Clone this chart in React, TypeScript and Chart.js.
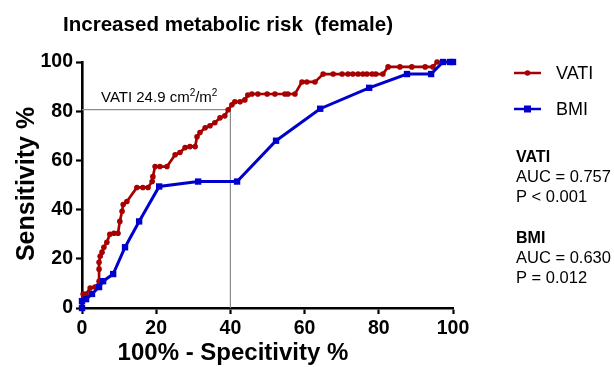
import React, { useEffect, useRef } from "react";
import { Chart, registerables } from "chart.js";

Chart.register(...registerables);

const chartTitle = "Increased metabolic risk  (female)";
const xAxisTitle = "100% - Specitivity %";
const yAxisTitle = "Sensitivity %";
const tickValues = [0, 20, 40, 60, 80, 100];

const vatiX = [0, 0, 0.3, 1.1, 2.2, 3.5, 4.3, 4.6, 4.6, 4.6, 4.9, 5.4, 5.9, 6.7, 7.5, 8.6, 9.7, 10.2, 10.8, 11.1, 12.1, 14.8, 16.4, 17.8, 18.9, 19.1, 19.7, 21.0, 22.9, 25.1, 26.4, 27.8, 29.1, 30.5, 31.0, 31.8, 33.2, 34.5, 35.8, 37.2, 38.5, 39.4, 40.4, 41.2, 42.6, 43.9, 44.7, 45.8, 47.4, 49.9, 52.0, 54.7, 55.5, 57.4, 59.3, 60.6, 62.8, 65.0, 67.7, 70.1, 71.7, 73.0, 74.4, 75.7, 76.8, 78.2, 79.2, 81.1, 82.5, 85.7, 88.9, 92.5, 94.6, 95.7, 100];
const vatiY = [0, 2.9, 5.7, 5.7, 8.1, 8.5, 8.9, 10.9, 15.8, 18.6, 21.0, 22.7, 24.7, 26.7, 30.0, 30.4, 30.4, 35.2, 39.3, 42.1, 43.3, 49.0, 49.0, 49.0, 51.4, 53.4, 57.5, 57.5, 57.5, 62.3, 63.2, 65.2, 65.6, 65.6, 69.6, 71.3, 73.3, 74.1, 75.3, 77.3, 78.1, 80.6, 82.6, 83.8, 83.8, 84.6, 86.6, 87.0, 87.0, 87.0, 87.0, 87.0, 87.0, 87.0, 91.9, 91.9, 91.9, 95.1, 95.1, 95.1, 95.1, 95.1, 95.1, 95.1, 95.1, 95.1, 95.1, 95.1, 98.0, 98.0, 98.0, 98.0, 98.0, 100, 100];

const bmiX = [0, 0, 1.1, 2.7, 4.6, 5.7, 8.4, 11.6, 15.4, 20.8, 31.3, 41.8, 52.3, 64.2, 77.4, 87.6, 94.1, 97.3, 99.2, 100];
const bmiY = [0, 2.8, 3.6, 5.7, 8.5, 10.9, 13.8, 24.7, 35.2, 49.4, 51.4, 51.4, 68.0, 81.0, 89.5, 95.1, 95.1, 100, 100, 100];

const cutoffX = [0, 40, 40];
const cutoffY = [80.6, 80.6, 0];

const seriesNames = ["VATI", "BMI"];
const seriesColors = ["#A80000", "#0000CC"];
const statsLines = [
  ["VATI", "AUC = 0.757", "P < 0.001"],
  ["BMI", "AUC = 0.630", "P = 0.012"],
];

const FONT = "'Liberation Sans', Arial, sans-serif";

const pts = (xs: number[], ys: number[]) => xs.map((x, i) => ({ x, y: ys[i] }));

const decorPlugin = {
  id: "decor",
  afterDraw(chart: any) {
    const ctx = chart.ctx as CanvasRenderingContext2D;
    const xs = chart.scales.x;
    const ys = chart.scales.y;
    ctx.save();
    // title
    ctx.fillStyle = "#000";
    ctx.font = `bold 21px ${FONT}`;
    ctx.textAlign = "left";
    ctx.textBaseline = "middle";
    ctx.fillText(chartTitle, 63, 25, 330);

    // axis titles
    ctx.font = `bold 24px ${FONT}`;
    ctx.textAlign = "center";
    ctx.fillText(xAxisTitle, 233, 353);
    ctx.save();
    ctx.translate(27, 184);
    ctx.rotate(-Math.PI / 2);
    ctx.font = `bold 25px ${FONT}`;
    ctx.fillText(yAxisTitle, 0, 0);
    ctx.restore();
    ctx.textAlign = "left";

    // cutoff label
    ctx.font = `15px ${FONT}`;
    ctx.textBaseline = "alphabetic";
    let tx = xs.getPixelForValue(0) + 19;
    const ty = ys.getPixelForValue(80.6) - 8;
    const parts: [string, boolean][] = [["VATI 24.9 cm", false], ["2", true], ["/m", false], ["2", true]];
    for (const [t, sup] of parts) {
      ctx.font = sup ? `10px ${FONT}` : `15px ${FONT}`;
      ctx.fillText(t, tx, sup ? ty - 6 : ty);
      tx += ctx.measureText(t).width;
    }

    // legend
    const legY = [73, 109];
    seriesNames.forEach((name, i) => {
      const y = legY[i];
      ctx.strokeStyle = seriesColors[i];
      ctx.lineWidth = 2.5;
      ctx.beginPath();
      ctx.moveTo(514, y);
      ctx.lineTo(541, y);
      ctx.stroke();
      ctx.fillStyle = seriesColors[i];
      if (i === 0) {
        ctx.beginPath();
        ctx.arc(527.5, y, 2.8, 0, Math.PI * 2);
        ctx.fill();
      } else {
        ctx.fillRect(524, y - 3.5, 7, 7);
      }
      ctx.fillStyle = "#000";
      ctx.font = `18px ${FONT}`;
      ctx.textBaseline = "middle";
      ctx.fillText(name, 556, y + 1);
    });

    // stats
    const statTop = [158, 239];
    statsLines.forEach((lines, i) => {
      lines.forEach((line, j) => {
        ctx.font = j === 0 ? `bold 16px ${FONT}` : `16.5px ${FONT}`;
        ctx.fillStyle = "#000";
        ctx.textBaseline = "middle";
        ctx.fillText(line, 516, statTop[i] + j * 19.5, 96);
      });
    });
    ctx.restore();
  },
};

export default function App() {
  const ref = useRef<HTMLCanvasElement | null>(null);
  useEffect(() => {
    document.body.style.margin = "0";
    const canvas = ref.current!;
    const tickFont = { family: FONT, size: 19.5, weight: "bold" as const };
    const axisCommon = () => ({
      type: "linear" as const,
      min: 0,
      max: 100,
      afterBuildTicks: (s: any) => {
        s.ticks = tickValues.map((v) => ({ value: v }));
      },
      ticks: { font: tickFont, color: "#000", padding: 3 },
      grid: {
        display: true,
        drawOnChartArea: false,
        drawTicks: true,
        tickLength: 6,
        tickWidth: 2.2,
        color: "#000",
      },
      border: { display: true, color: "#000", width: 2.6 },
      title: { display: false },
    });
    const chart = new Chart(canvas, {
      type: "scatter",
      data: {
        datasets: [
          {
            label: "BMI",
            data: pts(bmiX, bmiY),
            showLine: true,
            borderColor: seriesColors[1],
            backgroundColor: seriesColors[1],
            borderWidth: 3,
            pointStyle: "rect",
            pointRadius: 4.5,
            pointBorderWidth: 0,
            clip: false,
            order: 0,
          },
          {
            label: "VATI",
            data: pts(vatiX, vatiY),
            showLine: true,
            borderColor: seriesColors[0],
            backgroundColor: seriesColors[0],
            borderWidth: 2.7,
            pointStyle: "circle",
            pointRadius: 2.8,
            pointBorderWidth: 0,
            clip: false,
            order: 1,
          },
          {
            label: "cutoff",
            data: pts(cutoffX, cutoffY),
            showLine: true,
            borderColor: "#8c8c8c",
            borderWidth: 1.2,
            pointRadius: 0,
            clip: false,
            order: 2,
          },
        ],
      },
      options: {
        animation: false,
        responsive: false,
        events: [],
        layout: { padding: { top: 62, right: 161, left: 0, bottom: 0 } },
        plugins: { legend: { display: false }, tooltip: { enabled: false }, title: { display: false } },
        scales: {
          x: {
            ...axisCommon(),
            afterFit: (s: any) => {
              s.height = 59;
            },
          },
          y: {
            ...axisCommon(),
            afterFit: (s: any) => {
              s.width = 82;
            },
          },
        },
      },
      plugins: [decorPlugin],
    });
    return () => chart.destroy();
  }, []);
  return (
    <div style={{ position: "absolute", left: 0, top: 0, width: 614, height: 367, background: "#fff" }}>
      <canvas ref={ref} width={614} height={367} />
    </div>
  );
}
